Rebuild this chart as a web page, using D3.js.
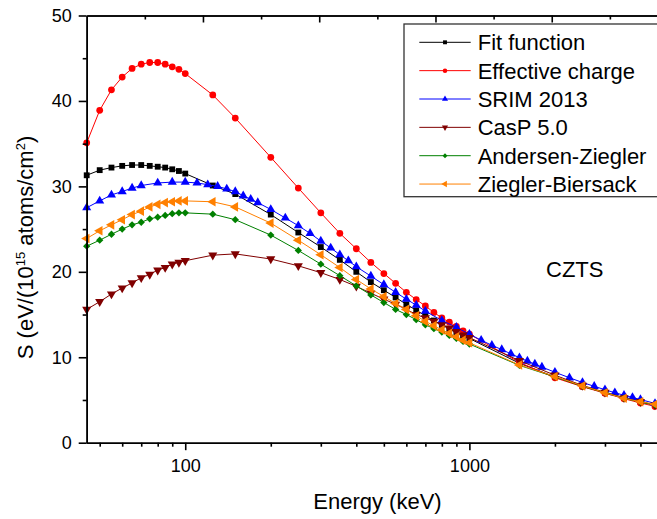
<!DOCTYPE html>
<html>
<head>
<meta charset="utf-8">
<script src="https://cdn.jsdelivr.net/npm/d3@7"></script>
<style>
body { margin: 0; background: #fff; }
svg { display: block; font-family: Arial, "Liberation Sans", sans-serif; }
</style>
</head>
<body>
<script>
// energies (keV) used by most of the curves
var energyA = [45, 50, 55, 60, 65, 70, 75, 80, 85, 90, 95, 100, 125, 150, 200, 250, 300, 350, 400, 450, 500,
    550, 600, 650, 700, 750, 800, 850, 900, 950, 1000, 1500, 2000, 2500, 3000, 3500, 4000, 4500, 5000];

// SRIM table energies
var energyB = [45, 50, 55, 60, 65, 70, 80, 90, 100, 110, 120, 130, 140, 150, 160, 170, 180, 200, 225, 250, 275,
    300, 325, 350, 375, 400, 450, 500, 550, 600, 650, 700, 800, 900, 1000, 1100, 1200, 1300, 1400, 1500,
    1600, 1700, 1800, 2000, 2250, 2500, 2750, 3000, 3250, 3500, 3750, 4000, 4500, 5000];

var fitFunction = [31.3, 31.9, 32.2, 32.4, 32.5, 32.5, 32.4, 32.3, 32.2, 32.0, 31.8, 31.5, 30.1, 29.1, 26.7, 24.6,
    22.9, 21.4, 20.0, 18.8, 17.85, 17.0, 16.2, 15.5, 14.85, 14.3, 13.8, 13.3, 12.9, 12.5, 12.2, 9.3, 7.7, 6.6,
    5.85, 5.25, 4.8, 4.4, 4.1];

var effectiveCharge = [35.1, 38.9, 41.3, 42.8, 43.8, 44.3, 44.5, 44.5, 44.3, 44.0, 43.7, 43.2, 40.7, 38.0, 33.4,
    29.8, 26.9, 24.5, 22.7, 21.1, 19.8, 18.65, 17.6, 16.75, 16.0, 15.25, 14.6, 14.1, 13.6, 13.1, 12.7, 9.4, 7.6,
    6.55, 5.8, 5.15, 4.65, 4.25, 3.95];

var srim2013 = [27.5, 28.3, 29.0, 29.4, 29.8, 30.1, 30.4, 30.5, 30.5, 30.4, 30.2, 30.0, 29.7, 29.4, 28.9, 28.5,
    28.1, 27.3, 26.3, 25.4, 24.5, 23.6, 22.8, 22.0, 21.3, 20.6, 19.5, 18.5, 17.6, 16.8, 16.1, 15.4, 14.3, 13.5,
    12.7, 12.0, 11.4, 10.9, 10.4, 9.95, 9.55, 9.2, 8.85, 8.25, 7.6, 7.05, 6.6, 6.2, 5.85, 5.55, 5.3, 5.05,
    4.6, 4.2];

var casp50 = [15.6, 16.5, 17.4, 18.1, 18.7, 19.3, 19.7, 20.2, 20.5, 20.9, 21.1, 21.3, 21.95, 22.1, 21.5, 20.7,
    19.9, 19.1, 18.3, 17.5, 16.8, 16.2, 15.6, 15.0, 14.6, 14.2, 13.8, 13.4, 13.0, 12.6, 12.3, 9.6, 7.9, 6.7,
    5.9, 5.25, 4.8, 4.4, 4.1];

var andersenZiegler = [23.0, 23.7, 24.4, 25.0, 25.5, 25.8, 26.2, 26.4, 26.6, 26.8, 26.9, 26.9, 26.75, 26.1, 24.3,
    22.5, 20.9, 19.55, 18.35, 17.3, 16.4, 15.6, 15.0, 14.4, 13.8, 13.35, 12.95, 12.55, 12.2, 11.85, 11.55,
    9.05, 7.7, 6.6, 5.85, 5.2, 4.75, 4.4, 4.1];

var zieglerBiersack = [23.9, 24.8, 25.5, 26.1, 26.7, 27.1, 27.6, 27.9, 28.1, 28.2, 28.3, 28.3, 28.2, 27.6, 25.7,
    23.7, 22.0, 20.5, 19.1, 18.0, 17.1, 16.3, 15.6, 14.85, 14.2, 13.7, 13.2, 12.8, 12.4, 12.0, 11.7, 9.1,
    7.75, 6.65, 5.85, 5.2, 4.8, 4.5, 4.2];

var yTicks = [0, 10, 20, 30, 40, 50];
var yMinor = [5, 15, 25, 35, 45];
var xMajor = [100, 1000];
var xMinor = [50, 60, 70, 80, 90, 200, 300, 400, 500, 600, 700, 800, 900, 2000, 3000, 4000, 5000];

// series list (draw order: back to front)
var series = [
    { name: "Fit function", x: energyA, y: fitFunction, colour: "#000000", symbol: d3.symbolSquare, size: 34, rot: 0 },
    { name: "Effective charge", x: energyA, y: effectiveCharge, colour: "#ff0000", symbol: d3.symbolCircle, size: 36, rot: 0 },
    { name: "SRIM 2013", x: energyB, y: srim2013, colour: "#0000ff", symbol: d3.symbolTriangle, size: 36, rot: 0 },
    { name: "CasP 5.0", x: energyA, y: casp50, colour: "#800000", symbol: d3.symbolTriangle, size: 36, rot: 180 },
    { name: "Andersen-Ziegler", x: energyA, y: andersenZiegler, colour: "#008000", symbol: d3.symbolDiamond2, size: 34, rot: 0 },
    { name: "Ziegler-Biersack", x: energyA, y: zieglerBiersack, colour: "#ff8000", symbol: d3.symbolTriangle, size: 40, rot: -90 }
];

var width = 657;
var height = 519;

var margin = { top: 15.5, left: 86.7, bottom: 76.3 };
var plotRight = 668; // frame goes past the picture edge
var plotBottom = height - margin.bottom;

var svg = d3.select("body")
    .append("svg")
    .attr("width", width)
    .attr("height", height);

var x = d3.scaleLog()
    .domain([45, 5000])
    .range([margin.left, plotRight]);

var y = d3.scaleLinear()
    .domain([0, 50])
    .range([plotBottom, margin.top]);

// top axis is a plain linear one in the original
var xTop = d3.scaleLinear()
    .domain([0, 5])
    .range([margin.left, plotRight]);

// lines
var line = d3.line()
    .x(function(d) { return x(d[0]); })
    .y(function(d) { return y(d[1]); });

series.forEach(function(s) {
    var pts = s.x.map(function(e, i) { return [e, s.y[i]]; });
    var g = svg.append("g");
    g.append("path")
        .attr("d", line(pts))
        .attr("fill", "none")
        .attr("stroke", s.colour)
        .attr("stroke-width", 1);
    g.selectAll("path.pt")
        .data(pts)
        .enter()
        .append("path")
        .attr("class", "pt")
        .attr("d", d3.symbol().type(s.symbol).size(s.size))
        .attr("fill", s.colour)
        .attr("transform", function(d) {
            return "translate(" + x(d[0]) + "," + y(d[1]) + ") rotate(" + s.rot + ")";
        });
});

// axes
var axisStyle = function(g) {
    g.select(".domain").attr("stroke", "#000").attr("stroke-width", 1.6);
    g.selectAll(".tick line").attr("stroke", "#000").attr("stroke-width", 1.6);
    g.selectAll(".tick text").attr("fill", "#000").style("font-size", "18px")
        .style("font-family", "Arial, 'Liberation Sans', sans-serif");
};

svg.append("g")
    .attr("transform", "translate(0," + plotBottom + ")")
    .call(d3.axisBottom(x).tickValues(xMinor).tickSize(4).tickFormat("").tickSizeOuter(0))
    .call(axisStyle);

svg.append("g")
    .attr("transform", "translate(0," + plotBottom + ")")
    .call(d3.axisBottom(x).tickValues(xMajor).tickSize(7.5).tickPadding(9).tickFormat(d3.format("d")).tickSizeOuter(0))
    .call(axisStyle);

svg.append("g")
    .attr("transform", "translate(" + margin.left + ",0)")
    .call(d3.axisLeft(y).tickValues(yMinor).tickSize(4).tickFormat("").tickSizeOuter(0))
    .call(axisStyle);

svg.append("g")
    .attr("transform", "translate(" + margin.left + ",0)")
    .call(d3.axisLeft(y).tickValues(yTicks).tickSize(8).tickPadding(7).tickSizeOuter(0))
    .call(axisStyle);

svg.append("g")
    .attr("transform", "translate(0," + margin.top + ")")
    .call(d3.axisTop(xTop).tickValues([0.5, 1.5, 2.5, 3.5, 4.5]).tickSize(-4).tickFormat("").tickSizeOuter(0))
    .call(axisStyle);

svg.append("g")
    .attr("transform", "translate(0," + margin.top + ")")
    .call(d3.axisTop(xTop).tickValues([1, 2, 3, 4, 5]).tickSize(-7).tickFormat("").tickSizeOuter(0))
    .call(axisStyle);

// axis titles
svg.append("text")
    .attr("x", 377.5)
    .attr("y", 509)
    .attr("text-anchor", "middle")
    .style("font-size", "22px")
    .text("Energy (keV)");

var yTitle = svg.append("text")
    .attr("transform", "translate(33,247.5) rotate(-90)")
    .attr("text-anchor", "middle")
    .style("font-size", "22px");
yTitle.append("tspan").text("S (eV/(10");
yTitle.append("tspan").attr("dy", -8).style("font-size", "13px").text("15");
yTitle.append("tspan").attr("dy", 8).text(" atoms/cm");
yTitle.append("tspan").attr("dy", -8).style("font-size", "13px").text("2");
yTitle.append("tspan").attr("dy", 8).text(")");

// sample label
svg.append("text")
    .attr("x", 546)
    .attr("y", 277)
    .style("font-size", "22px")
    .text("CZTS");

// legend
var legend = svg.append("g");
legend.append("rect")
    .attr("x", 404)
    .attr("y", 24)
    .attr("width", 300)
    .attr("height", 172.7)
    .attr("fill", "#fff")
    .attr("stroke", "#333")
    .attr("stroke-width", 1.3);

var row = legend.selectAll("g.row")
    .data(series)
    .enter()
    .append("g")
    .attr("class", "row")
    .attr("transform", function(d, i) { return "translate(0," + (42.3 + i * 28.35) + ")"; });

row.append("line")
    .attr("x1", 419.3)
    .attr("x2", 470.7)
    .attr("stroke", function(d) { return d.colour; })
    .attr("stroke-width", 1);

row.append("path")
    .attr("d", function(d) { return d3.symbol().type(d.symbol).size(d.size * 0.45)(); })
    .attr("fill", function(d) { return d.colour; })
    .attr("transform", function(d) { return "translate(445,0) rotate(" + d.rot + ")"; });

row.append("text")
    .attr("x", 477.7)
    .attr("y", 8)
    .style("font-size", "22px")
    .text(function(d) { return d.name; });
</script>
</body>
</html>
